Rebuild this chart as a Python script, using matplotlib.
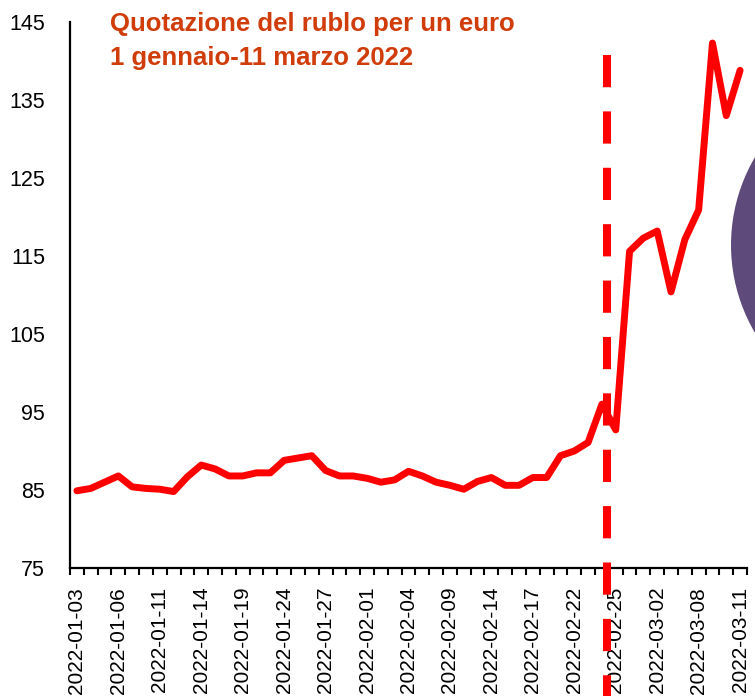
import matplotlib
matplotlib.use("Agg")
from matplotlib import pyplot as plt
from matplotlib.patches import Ellipse
from matplotlib.ticker import FixedLocator, NullFormatter
import pandas as pd

# trading days shown on the category axis (2022-03-07 missing in the source)
dates = [d.strftime("%Y-%m-%d") for d in pd.bdate_range("2022-01-03", "2022-03-11")
         if d.strftime("%Y-%m-%d") != "2022-03-07"]

rub_per_eur = [
    84.9, 85.2, 86.0, 86.8, 85.4, 85.2, 85.1, 84.8, 86.7, 88.2,
    87.7, 86.8, 86.8, 87.2, 87.2, 88.8, 89.1, 89.4, 87.5, 86.8,
    86.8, 86.5, 86.0, 86.3, 87.4, 86.8, 86.0, 85.6, 85.1, 86.1,
    86.6, 85.6, 85.6, 86.6, 86.6, 89.4, 90.0, 91.1, 96.0, 92.7,
    115.6, 117.3, 118.2, 110.4, 117.1, 120.9, 142.3, 133.0, 138.8,
]

y_ticks = [75, 85, 95, 105, 115, 125, 135, 145]
label_step = 3
event_date = "2022-02-24"

title_lines = ["Quotazione del rublo per un euro", "1 gennaio-11 marzo 2022"]

fig = plt.figure(figsize=(7.55, 6.96), dpi=100)
ax = fig.add_axes([70 / 755, 1 - 568 / 696, 677 / 755, 546 / 696])

x = list(range(len(dates)))
ax.plot(x, rub_per_eur, color="#ff0000", lw=5, solid_joinstyle="round",
        solid_capstyle="round", zorder=3)

ax.set_xlim(-0.5, len(dates) - 0.5)
ax.set_ylim(75, 145)

# category axis: labels every 3rd day, tick marks between categories
ax.xaxis.set_major_locator(FixedLocator(x[::label_step]))
ax.set_xticklabels(dates[::label_step], rotation=90, family="Liberation Sans",
                   fontsize=15)
ax.xaxis.set_minor_locator(FixedLocator([i - 0.5 for i in range(len(dates) + 1)]))
ax.xaxis.set_minor_formatter(NullFormatter())
ax.tick_params(axis="x", which="major", length=0, pad=13.5)
ax.tick_params(axis="x", which="minor", length=5, width=1.5, direction="out", color="black")

ax.set_yticks(y_ticks)
ax.set_yticklabels([str(v) for v in y_ticks], family=["Liberation Sans Narrow", "Liberation Sans"],
                   fontsize=15.5)
ax.tick_params(axis="y", length=0, pad=18)

for s in ["top", "right"]:
    ax.spines[s].set_visible(False)
for s in ["left", "bottom"]:
    ax.spines[s].set_linewidth(1.6)
    ax.spines[s].set_color("black")

# vertical dashed marker, runs down through the labels
ex = dates.index(event_date) + 0.4
ax.plot([ex, ex], [140.8, 58.6], color="#ff0000", lw=5.8, dashes=(4, 3),
        dash_capstyle="butt", clip_on=False, zorder=5)

# purple disc cut by the right edge
fig.add_artist(Ellipse((904 / 755, 1 - 245 / 696), 2 * 173 / 755, 2 * 173 / 696,
                       transform=fig.transFigure, facecolor="#5e4b7c", edgecolor="none"))

fig.text(110 / 755, 1 - 31 / 696, title_lines[0], color="#d03c0a", fontsize=18.5,
         fontweight="bold", family="Liberation Sans", va="baseline")
fig.text(110 / 755, 1 - 65 / 696, title_lines[1], color="#d03c0a", fontsize=18.5,
         fontweight="bold", family="Liberation Sans", va="baseline")

fig.savefig("out.png", dpi=100)
